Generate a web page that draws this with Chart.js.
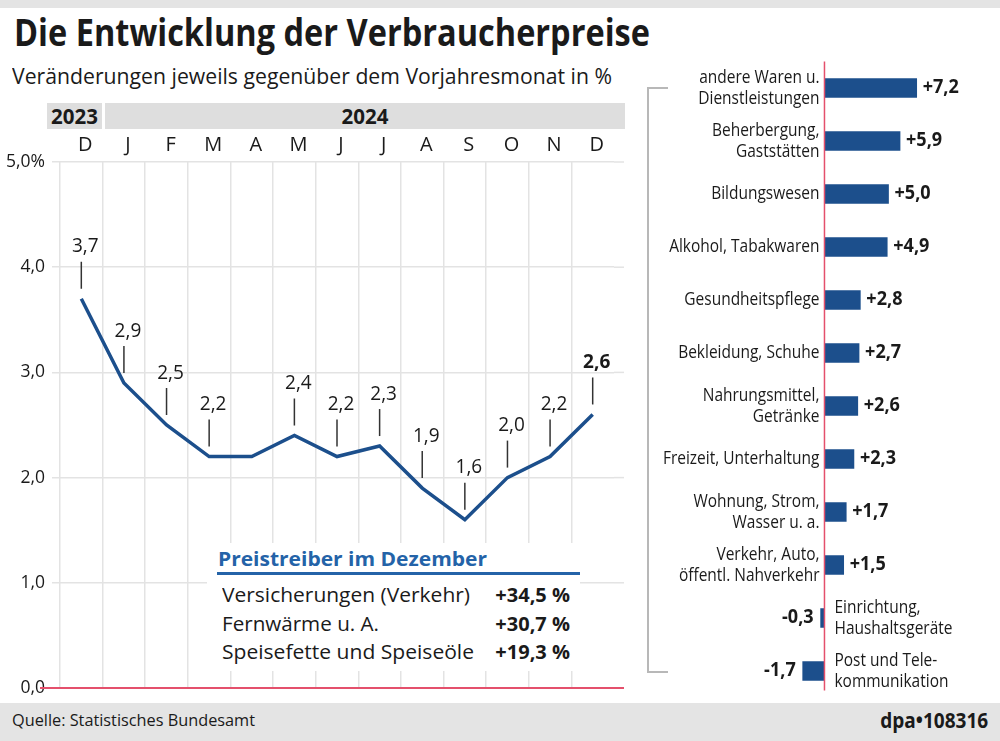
<!DOCTYPE html>
<html>
<head>
<meta charset="utf-8">
<script src="https://cdn.jsdelivr.net/npm/chart.js@4.4.1/dist/chart.umd.min.js"></script>
<style>
  body { margin: 0; width: 1000px; height: 741px; position: relative; overflow: hidden; background: #fff;
         font-family: 'Open Sans', sans-serif; color: #1a1a1a; }
  canvas { position: absolute; left: 0; top: 0; }
  .t { position: absolute; white-space: nowrap; }
  .fit { display: inline-block; transform-origin: left center; }
  .band { position: absolute; left: 0; width: 1000px; background: #e4e4e4; }
  .year { position: absolute; top: 103px; height: 26px; line-height: 26px; background: #dedede;
          font-weight: 700; font-size: 20.5px; text-align: center; }
  #box { position: absolute; left: 207px; top: 543px; width: 373px; height: 128px; background: #fff; z-index: 2; }
  #box .row { position: absolute; left: 15px; width: 348px; height: 28px; line-height: 28px; font-size: 20px; }
  #box .row b { position: absolute; right: 0; top: 0; }
  #bracket { position: absolute; left: 647px; top: 87px; width: 19px; height: 582px;
             border: 2px solid #b8b8b8; border-right: none; }
</style>
</head>
<body>
<div class="band" style="top:0;height:8px"></div>
<div class="t" style="left:14px;top:8px;font-size:38px;line-height:46px;font-weight:700"><span class="fit" data-w="636">Die Entwicklung der Verbraucherpreise</span></div>
<div class="t" style="left:12px;top:63px;font-size:21px;line-height:26px"><span class="fit" data-w="600">Veränderungen jeweils gegenüber dem Vorjahresmonat in %</span></div>
<div id="years"></div>
<canvas id="lineChart" width="1000" height="741"></canvas>
<canvas id="barChart" width="1000" height="741"></canvas>
<div id="bracket"></div>
<div id="box"></div>
<div class="band" style="top:703px;height:38px"></div>
<div class="t" style="left:12px;top:707px;font-size:17px;line-height:26px"><span class="fit" data-w="243">Quelle: Statistisches Bundesamt</span></div>
<div class="t" style="right:12px;top:706px;font-size:21px;line-height:28px;font-weight:700"><span class="fit" data-w="108" data-right="1">dpa•108316</span></div>

<script>
// Verbraucherpreise, Veränderung gegenüber Vorjahresmonat in %
const years = ['2023', '2024'];
const months = ['D', 'J', 'F', 'M', 'A', 'M', 'J', 'J', 'A', 'S', 'O', 'N', 'D'];
const cpiValues = [3.7, 2.9, 2.5, 2.2, 2.2, 2.4, 2.2, 2.3, 1.9, 1.6, 2.0, 2.2, 2.6];
const cpiLabels = ['3,7', '2,9', '2,5', '2,2', '', '2,4', '2,2', '2,3', '1,9', '1,6', '2,0', '2,2', '2,6'];
const yTickLabels = ['0,0', '1,0', '2,0', '3,0', '4,0', '5,0%'];

// Gruppen im Dezember 2024
const groupLabels = [
  ['andere Waren u.', 'Dienstleistungen'],
  ['Beherbergung,', 'Gaststätten'],
  ['Bildungswesen'],
  ['Alkohol, Tabakwaren'],
  ['Gesundheitspflege'],
  ['Bekleidung, Schuhe'],
  ['Nahrungsmittel,', 'Getränke'],
  ['Freizeit, Unterhaltung'],
  ['Wohnung, Strom,', 'Wasser u. a.'],
  ['Verkehr, Auto,', 'öffentl. Nahverkehr'],
  ['Einrichtung,', 'Haushaltsgeräte'],
  ['Post und Tele-', 'kommunikation']
];
const groupValues = [7.2, 5.9, 5.0, 4.9, 2.8, 2.7, 2.6, 2.3, 1.7, 1.5, -0.3, -1.7];
const groupValueLabels = ['+7,2', '+5,9', '+5,0', '+4,9', '+2,8', '+2,7', '+2,6', '+2,3', '+1,7', '+1,5', '-0,3', '-1,7'];

// Preistreiber im Dezember
const driverNames = ['Versicherungen (Verkehr)', 'Fernwärme u. A.', 'Speisefette und Speiseöle'];
const driverValues = ['+34,5 %', '+30,7 %', '+19,3 %'];

const BLUE = '#1c4f8c';
const GRID = '#e3e3e3';
const RED = '#e4506c';
const TEXT = '#1a1a1a';

// year header
const yearsEl = document.getElementById('years');
yearsEl.innerHTML =
  '<div class="year" style="left:47px;width:55px">' + years[0] + '</div>' +
  '<div class="year" style="left:105px;width:520px">' + years[1] + '</div>';

// box
let boxHtml = '<div class="t" style="left:11px;top:2px;font-size:20px;line-height:28px;font-weight:700;color:#2463a8">' +
  '<span class="fit" data-w="269">Preistreiber im Dezember</span></div>' +
  '<div style="position:absolute;left:10px;top:29px;width:363px;height:3px;background:#2463a8"></div>';
driverNames.forEach(function(name, i) {
  boxHtml += '<div class="row" style="top:' + (38 + i * 28.5) + 'px"><span class="fit" data-w="' + [248, 157, 252][i] + '">' + name +
    '</span><b>' + driverValues[i] + '</b></div>';
});
document.getElementById('box').innerHTML = boxHtml;

document.querySelectorAll('.fit').forEach(function(el) {
  const w = el.getBoundingClientRect().width;
  const target = parseFloat(el.dataset.w);
  if (el.dataset.right) el.style.transformOrigin = 'right center';
  el.style.transform = 'scaleX(' + (target / w) + ')';
});

function drawText(ctx, s, x, y, font, align, sx, color) {
  ctx.save();
  ctx.font = font;
  ctx.fillStyle = color || TEXT;
  ctx.textAlign = align;
  ctx.textBaseline = 'middle';
  ctx.translate(x, y);
  ctx.scale(sx, 1);
  ctx.fillText(s, 0, 0);
  ctx.restore();
}

const lineLabelsPlugin = {
  id: 'lineLabels',
  afterDatasetsDraw(chart) {
    const ctx = chart.ctx;
    const y = chart.scales.y;
    const area = chart.chartArea;
    // grid extension to the right and red zero line
    ctx.save();
    ctx.strokeStyle = GRID;
    ctx.lineWidth = 1.5;
    y.ticks.forEach(function(t) {
      if (t.value === 0) return;
      const py = y.getPixelForValue(t.value);
      ctx.beginPath(); ctx.moveTo(area.right, py); ctx.lineTo(area.right + 10, py); ctx.stroke();
    });
    const zy = y.getPixelForValue(0);
    ctx.strokeStyle = RED;
    ctx.lineWidth = 2;
    ctx.beginPath(); ctx.moveTo(area.left - 20, zy); ctx.lineTo(area.right + 10, zy); ctx.stroke();
    ctx.restore();

    const meta = chart.getDatasetMeta(0);
    meta.data.forEach(function(p, i) {
      if (!cpiLabels[i]) return;
      ctx.save();
      ctx.strokeStyle = '#333';
      ctx.lineWidth = 1.5;
      ctx.beginPath(); ctx.moveTo(p.x, p.y - 10); ctx.lineTo(p.x, p.y - 37); ctx.stroke();
      ctx.restore();
      const last = i === cpiLabels.length - 1;
      drawText(ctx, cpiLabels[i], p.x + 4, p.y - 52,
        (last ? '700 ' : '400 ') + '20px "Open Sans"', 'center', 0.95);
    });
  }
};

new Chart(document.getElementById('lineChart'), {
  type: 'line',
  data: {
    labels: months,
    datasets: [{
      data: cpiValues,
      borderColor: BLUE,
      borderWidth: 3.5,
      pointRadius: 0,
      tension: 0,
      fill: false
    }]
  },
  options: {
    responsive: false,
    animation: false,
    layout: { padding: { left: 0, right: 386, top: 132, bottom: 53 } },
    plugins: { legend: { display: false }, tooltip: { enabled: false } },
    scales: {
      x: {
        position: 'top',
        offset: true,
        afterFit: function(s) { s.height = 30; },
        border: { display: false },
        grid: {
          offset: true,
          drawTicks: false,
          lineWidth: 1.5,
          color: function(c) { return c.type === 'tick' ? GRID : 'transparent'; }
        },
        ticks: { color: TEXT, font: { family: 'Open Sans', size: 20 }, padding: 5, labelOffset: 4, maxRotation: 0 }
      },
      y: {
        min: 0,
        max: 5,
        afterFit: function(s) { s.width = 60; },
        border: { display: false },
        grid: {
          lineWidth: 1.5,
          tickLength: 8,
          color: function(c) { return c.tick && c.tick.value === 0 ? RED : GRID; },
          tickColor: function(c) { return c.tick && c.tick.value === 0 ? RED : GRID; }
        },
        ticks: {
          stepSize: 1,
          padding: 7,
          color: TEXT,
          font: { family: 'Open Sans', size: 17.5 },
          callback: function(v, i) { return yTickLabels[i]; }
        }
      }
    }
  },
  plugins: [lineLabelsPlugin]
});

const barLabelsPlugin = {
  id: 'barLabels',
  afterDatasetsDraw(chart) {
    const ctx = chart.ctx;
    const x = chart.scales.x;
    const area = chart.chartArea;
    const x0 = x.getPixelForValue(0);
    ctx.save();
    ctx.strokeStyle = RED;
    ctx.lineWidth = 1.5;
    ctx.beginPath(); ctx.moveTo(x0, area.top); ctx.lineTo(x0, area.bottom - 7); ctx.stroke();
    ctx.restore();

    const meta = chart.getDatasetMeta(0);
    meta.data.forEach(function(bar, i) {
      const v = groupValues[i];
      const lines = groupLabels[i];
      const pos = v >= 0;
      drawText(ctx, groupValueLabels[i], pos ? bar.x + 6 : bar.x - 7, bar.y,
        '700 19px "Open Sans"', pos ? 'left' : 'right', 0.95);
      const lx = pos ? x0 - 5 : x0 + 10;
      lines.forEach(function(line, k) {
        const ly = bar.y + (k - (lines.length - 1) / 2) * 21;
        drawText(ctx, line, lx, ly, '400 18px "Open Sans"', pos ? 'right' : 'left', 0.86);
      });
    });
  }
};

new Chart(document.getElementById('barChart'), {
  type: 'bar',
  data: {
    labels: groupLabels,
    datasets: [{
      data: groupValues,
      backgroundColor: BLUE,
      barThickness: 19
    }]
  },
  options: {
    indexAxis: 'y',
    responsive: false,
    animation: false,
    layout: { padding: { left: 722, right: 9, top: 61.5, bottom: 43.5 } },
    plugins: { legend: { display: false }, tooltip: { enabled: false } },
    scales: {
      x: { display: false, min: -8, max: 13 },
      y: { display: false }
    }
  },
  plugins: [barLabelsPlugin]
});
</script>
</body>
</html>
